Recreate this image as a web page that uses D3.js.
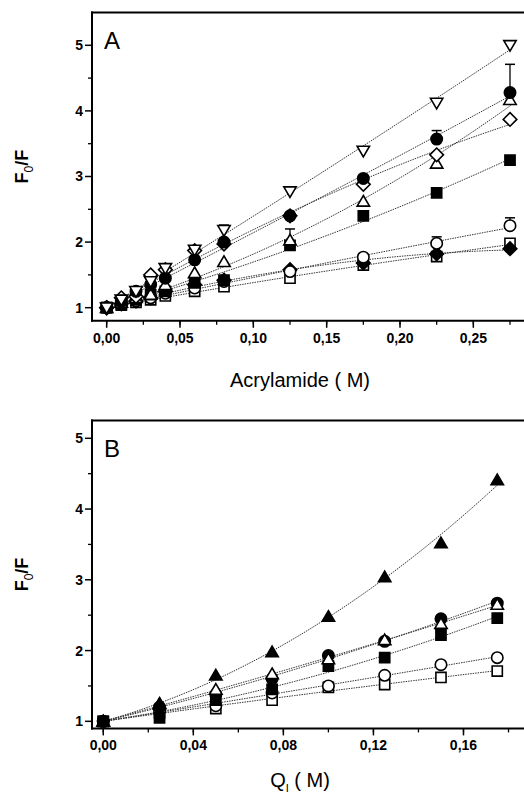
<!DOCTYPE html>
<html><head><meta charset="utf-8">
<script src="https://cdn.jsdelivr.net/npm/d3@7"></script>
<style>html,body{margin:0;padding:0;background:#fff;}svg{display:block;}</style>
</head><body>
<svg id="c" width="524" height="796"></svg>
<script>
// ---------- Panel A data ----------
const xA = [0, 0.01, 0.02, 0.03, 0.04, 0.06, 0.08, 0.125, 0.175, 0.225, 0.275];
const aTriDown   = [1.00, 1.12, 1.25, 1.40, 1.60, 1.88, 2.18, 2.77, 3.39, 4.12, 5.00];
const aCircFill  = [1.00, 1.10, 1.25, 1.35, 1.45, 1.73, 2.00, 2.40, 2.97, 3.57, 4.28];
const aTriUp     = [1.00, 1.08, 1.15, 1.20, 1.35, 1.53, 1.70, 2.03, 2.62, 3.20, 4.17];
const aDiamOpen  = [1.00, 1.15, 1.17, 1.50, 1.58, 1.87, 1.97, 2.40, 2.88, 3.33, 3.87];
const aSqFill    = [1.00, 1.06, 1.12, 1.20, 1.25, 1.38, 1.42, 1.95, 2.40, 2.75, 3.25];
const aCircOpen  = [1.00, 1.05, 1.10, 1.15, 1.22, 1.30, 1.40, 1.55, 1.77, 1.98, 2.25];
const aSqOpen    = [1.00, 1.04, 1.08, 1.12, 1.18, 1.25, 1.32, 1.45, 1.65, 1.78, 1.98];
const aDiamFill  = [1.00, 1.06, 1.10, 1.15, 1.25, 1.35, 1.42, 1.58, 1.68, 1.82, 1.90];
// upper error bars (0 = none)
const aErrTriDown  = [0, 0, 0, 0, 0.07, 0.05, 0.08, 0, 0, 0, 0];
const aErrCircFill = [0, 0, 0, 0, 0, 0, 0, 0, 0, 0.13, 0.43];
const aErrTriUp    = [0, 0, 0, 0, 0, 0, 0, 0.17, 0, 0, 0];
const aErrCircOpen = [0, 0, 0, 0, 0, 0, 0, 0, 0, 0.10, 0.12];
const aXTicks = [0, 0.05, 0.10, 0.15, 0.20, 0.25];
const aXTickLabels = ["0,00", "0,05", "0,10", "0,15", "0,20", "0,25"];
const aYTicks = [1, 2, 3, 4, 5];

// ---------- Panel B data ----------
const xB = [0, 0.025, 0.05, 0.075, 0.10, 0.125, 0.15, 0.175];
const bTriFill  = [1.00, 1.25, 1.65, 1.98, 2.48, 3.04, 3.52, 4.41];
const bCircFill = [1.00, 1.20, 1.38, 1.60, 1.93, 2.13, 2.45, 2.67];
const bTriOpen  = [1.00, 1.25, 1.45, 1.67, 1.88, 2.15, 2.38, 2.65];
const bSqFill   = [1.00, 1.05, 1.30, 1.45, 1.78, 1.90, 2.22, 2.46];
const bCircOpen = [1.00, 1.15, 1.22, 1.40, 1.50, 1.65, 1.80, 1.90];
const bSqOpen   = [1.00, 1.12, 1.18, 1.30, 1.48, 1.52, 1.62, 1.71];
const bXTicks = [0, 0.04, 0.08, 0.12, 0.16];
const bXTickLabels = ["0,00", "0,04", "0,08", "0,12", "0,16"];
const bYTicks = [1, 2, 3, 4, 5];

// ---------- drawing ----------
const svg = d3.select("#c");
const FONT = "'Liberation Sans', Arial, sans-serif";

function shapePath(shape, r) {
  switch (shape) {
    case "circle": return d3.path().arc ? (() => { const p = d3.path(); p.arc(0, 0, r * 0.92, 0, 2 * Math.PI); p.closePath(); return p.toString(); })() : "";
    case "square": { const s = r * 0.82; return `M${-s},${-s}H${s}V${s}H${-s}Z`; }
    case "diamond": { const s = r * 1.1; return `M0,${-s}L${s},0L0,${s}L${-s},0Z`; }
    case "triUp": { const w = r, h = r * 0.95; return `M0,${-h}L${w},${h * 0.8}L${-w},${h * 0.8}Z`; }
    case "triDown": { const w = r, h = r * 0.95; return `M0,${h}L${w},${-h * 0.8}L${-w},${-h * 0.8}Z`; }
  }
}

function quadFit(xs, ys) {
  // least squares y = 1 + a x + b x^2
  let s2 = 0, s3 = 0, s4 = 0, t1 = 0, t2 = 0;
  xs.forEach((x, i) => { const d = ys[i] - 1; s2 += x * x; s3 += x ** 3; s4 += x ** 4; t1 += x * d; t2 += x * x * d; });
  const det = s2 * s4 - s3 * s3;
  const a = (t1 * s4 - s3 * t2) / det, b = (s2 * t2 - s3 * t1) / det;
  return x => 1 + a * x + b * x * x;
}

function panel(cfg) {
  const g = svg.append("g");
  const x = d3.scaleLinear().domain(cfg.xDom).range([92, 525.4]);
  const y = d3.scaleLinear().domain(cfg.yDom).range(cfg.yRange);
  const y0 = cfg.yRange[0], y1 = cfg.yRange[1];

  // fit lines
  cfg.series.forEach(s => {
    const f = quadFit(cfg.xs, s.ys);
    const xmax = cfg.xs[cfg.xs.length - 1] + 0.001;
    const pts = d3.range(0, 61).map(i => [xmax * i / 60, f(xmax * i / 60)]);
    g.append("path").attr("d", d3.line().x(d => x(d[0])).y(d => y(d[1]))(pts))
      .attr("fill", "none").attr("stroke", "#333").attr("stroke-width", 1)
      .attr("stroke-dasharray", "1.5,1");
  });

  // error bars
  cfg.series.forEach(s => {
    if (!s.err) return;
    s.err.forEach((e, i) => {
      if (!e) return;
      const cx = x(cfg.xs[i]);
      g.append("line").attr("x1", cx).attr("x2", cx).attr("y1", y(s.ys[i])).attr("y2", y(s.ys[i] + e))
        .attr("stroke", "#000").attr("stroke-width", 1.3);
      g.append("line").attr("x1", cx - 5).attr("x2", cx + 5).attr("y1", y(s.ys[i] + e)).attr("y2", y(s.ys[i] + e))
        .attr("stroke", "#000").attr("stroke-width", 1.5);
    });
  });

  // markers
  cfg.series.forEach(s => {
    g.selectAll(null).data(cfg.xs.map((xv, i) => [xv, s.ys[i]])).enter().append("path")
      .attr("d", shapePath(s.shape, 6.2))
      .attr("transform", d => `translate(${x(d[0])},${y(d[1])})`)
      .attr("fill", s.fill ? "#000" : "#fff")
      .attr("stroke", "#000").attr("stroke-width", 1.6);
  });

  // frame: left, bottom, top
  g.append("line").attr("x1", 92).attr("x2", 92).attr("y1", y1 - 1).attr("y2", y0 + 1).attr("stroke", "#000").attr("stroke-width", 2);
  g.append("line").attr("x1", 91).attr("x2", 524).attr("y1", y0).attr("y2", y0).attr("stroke", "#000").attr("stroke-width", 2);
  g.append("line").attr("x1", 91).attr("x2", 524).attr("y1", y1).attr("y2", y1).attr("stroke", "#000").attr("stroke-width", 2);

  // x ticks
  const minorX = d3.range(cfg.xTicks[0], cfg.xDom[1], cfg.xMinor);
  g.selectAll(null).data(minorX).enter().append("line")
    .attr("x1", d => x(d)).attr("x2", d => x(d)).attr("y1", y0).attr("y2", y0 + 4)
    .attr("stroke", "#000").attr("stroke-width", 1.3);
  g.selectAll(null).data(cfg.xTicks).enter().append("line")
    .attr("x1", d => x(d)).attr("x2", d => x(d)).attr("y1", y0).attr("y2", y0 + 7)
    .attr("stroke", "#000").attr("stroke-width", 1.5);
  g.selectAll(null).data(cfg.xTicks).enter().append("text")
    .attr("x", d => x(d)).attr("y", y0 + 22).attr("text-anchor", "middle")
    .attr("font-family", FONT).attr("font-weight", "bold").attr("font-size", 14)
    .text((d, i) => cfg.xTickLabels[i]);

  // y ticks
  const minorY = d3.range(cfg.yTicks[0] + 0.5, cfg.yDom[1], 1);
  g.selectAll(null).data(minorY).enter().append("line")
    .attr("x1", 88).attr("x2", 92).attr("y1", d => y(d)).attr("y2", d => y(d))
    .attr("stroke", "#000").attr("stroke-width", 1.3);
  g.selectAll(null).data(cfg.yTicks).enter().append("line")
    .attr("x1", 85).attr("x2", 92).attr("y1", d => y(d)).attr("y2", d => y(d))
    .attr("stroke", "#000").attr("stroke-width", 1.5);
  g.selectAll(null).data(cfg.yTicks).enter().append("text")
    .attr("x", 83).attr("y", d => y(d) + 5).attr("text-anchor", "end")
    .attr("font-family", FONT).attr("font-weight", "bold").attr("font-size", 14)
    .text(d => d);

  // panel letter
  g.append("text").attr("x", 104).attr("y", y1 + 36).attr("font-family", FONT).attr("font-size", 24)
    .text(cfg.letter);

  // y title
  const yt = g.append("text").attr("transform", `translate(28,${(y0 + y1) / 2}) rotate(-90)`)
    .attr("text-anchor", "middle").attr("font-family", FONT).attr("font-weight", "bold").attr("font-size", 18);
  yt.append("tspan").text("F");
  yt.append("tspan").attr("dy", 5).attr("font-size", 12).attr("font-weight", "normal").text("0");
  yt.append("tspan").attr("dy", -5).text("/F");

  return g;
}

panel({
  xs: xA, xDom: [-0.01, 0.2855], yDom: [0.8, 5.5], yRange: [320.8, 12.5],
  xTicks: aXTicks, xTickLabels: aXTickLabels, xMinor: 0.025, yTicks: aYTicks, letter: "A",
  series: [
    { ys: aSqOpen, shape: "square", fill: false },
    { ys: aDiamFill, shape: "diamond", fill: true },
    { ys: aCircOpen, shape: "circle", fill: false, err: aErrCircOpen },
    { ys: aSqFill, shape: "square", fill: true },
    { ys: aTriUp, shape: "triUp", fill: false, err: aErrTriUp },
    { ys: aDiamOpen, shape: "diamond", fill: false },
    { ys: aCircFill, shape: "circle", fill: true, err: aErrCircFill },
    { ys: aTriDown, shape: "triDown", fill: false, err: aErrTriDown }
  ]
});

panel({
  xs: xB, xDom: [-0.005, 0.1875], yDom: [0.9, 5.25], yRange: [728.4, 420.6],
  xTicks: bXTicks, xTickLabels: bXTickLabels, xMinor: 0.02, yTicks: bYTicks, letter: "B",
  series: [
    { ys: bSqOpen, shape: "square", fill: false },
    { ys: bCircOpen, shape: "circle", fill: false },
    { ys: bSqFill, shape: "square", fill: true },
    { ys: bCircFill, shape: "circle", fill: true },
    { ys: bTriOpen, shape: "triUp", fill: false },
    { ys: bTriFill, shape: "triUp", fill: true }
  ]
});

// x axis titles
svg.append("text").attr("x", 300).attr("y", 387).attr("text-anchor", "middle")
  .attr("font-family", FONT).attr("font-size", 20).text("Acrylamide ( M)");
const qt = svg.append("text").attr("x", 300).attr("y", 787).attr("text-anchor", "middle")
  .attr("font-family", FONT).attr("font-size", 20);
qt.append("tspan").text("Q");
qt.append("tspan").attr("dy", 5).attr("font-size", 11).text("I");
qt.append("tspan").attr("dy", -5).text("  ( M)");
</script>
</body></html>
